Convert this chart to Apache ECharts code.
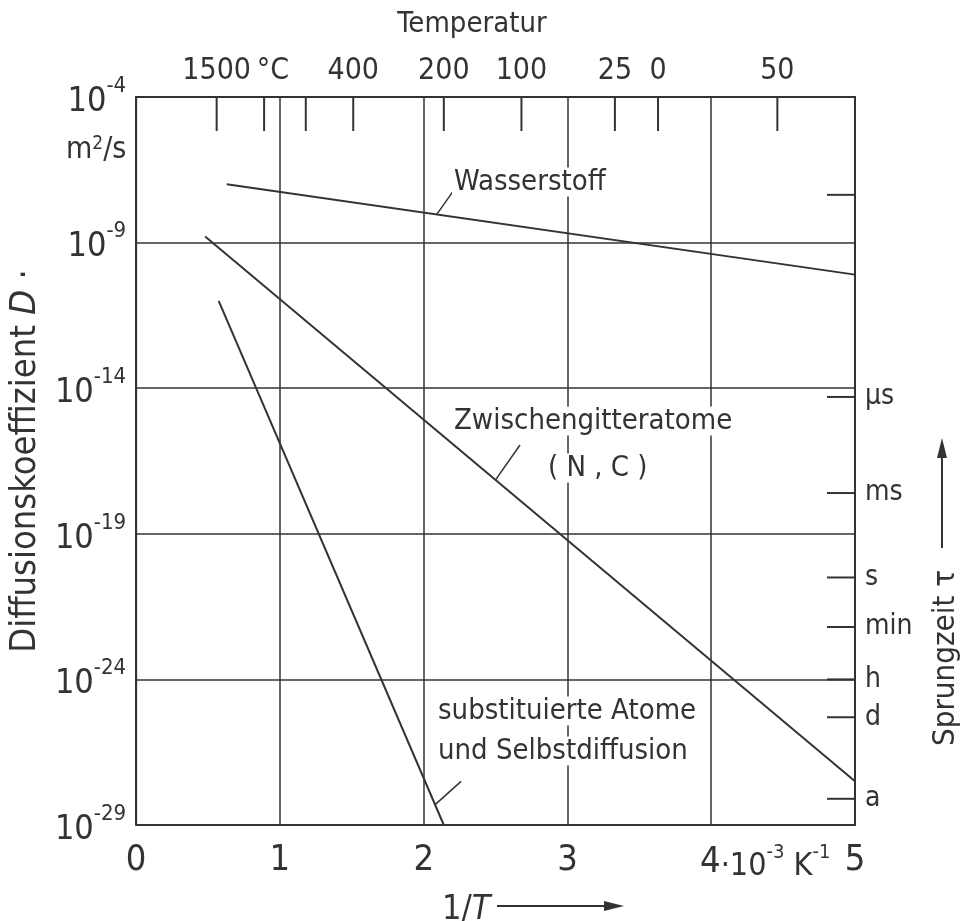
<!DOCTYPE html>
<html>
<head>
<meta charset="utf-8">
<title>Diffusionskoeffizient</title>
<script src="https://cdn.jsdelivr.net/npm/echarts@6/dist/echarts.min.js"></script>
<style>
  html, body { margin: 0; padding: 0; background: #fff; }
  #main { width: 974px; height: 921px; }
</style>
</head>
<body>
<div id="main"></div>
<script>
// x: 1/T in 10^-3 K^-1, y: Exponent von D in m^2/s (log10)
const wasserstoffX = [0.63, 5];
const wasserstoffLogD = [-7.0, -10.1];
const zwischenX = [0.48, 5];
const zwischenLogD = [-8.79, -27.5];
const substX = [0.574, 2.14];
const substLogD = [-11.0, -29];

// Temperaturskala oben
const tempTickX = [0.56, 0.89, 1.18, 1.51, 2.14, 2.68, 3.33, 3.63, 4.46];
const tempTickLabels = ['1500', '', '', '400', '200', '100', '25', '0', '50'];

// Sprungzeit rechts
const tauLogD = [-7.36, -14.3, -17.6, -20.5, -22.2, -24, -25.3, -28.1];
const tauLabels = ['', 'µs', 'ms', 's', 'min', 'h', 'd', 'a'];

// Hinweisstriche an den Kurven (x, log D)
const leaderWasserstoff = [[2.09, -8.04], [2.21, -7.2]];
const leaderZwischen = [[2.5, -17.15], [2.67, -15.95]];
const leaderSubst = [[2.08, -28.3], [2.26, -27.5]];

const INK = '#333';
const NUM = "'Liberation Sans Narrow', 'DejaVu Sans Condensed', sans-serif";
const TXT = "'DejaVu Sans Condensed', 'Liberation Sans Narrow', sans-serif";
const X_MAX = 5;
const LOG_MIN = -29;
const LOG_MAX = -4;

const zip = (xs, ys) => xs.map((x, i) => [x, ys[i]]);
const leader = pts => [[{ coord: pts[0] }, { coord: pts[1] }]];

function curve(name, xs, ls, lead) {
  return {
    name: name,
    type: 'line',
    data: zip(xs, ls),
    symbol: 'none',
    lineStyle: { color: INK, width: 2 },
    markLine: {
      silent: true,
      symbol: 'none',
      label: { show: false },
      lineStyle: { color: INK, width: 1.5, type: 'solid' },
      data: leader(lead)
    }
  };
}

function textEl(x, y, text, size, extra) {
  return {
    type: 'text', x: x, y: y, z: 100,
    style: Object.assign({
      text: text,
      fontSize: size,
      fontFamily: TXT,
      fill: INK,
      textAlign: 'left',
      textVerticalAlign: 'middle',
      backgroundColor: '#fff',
      padding: [0, 2]
    }, extra || {})
  };
}

let myChart = echarts.init(document.getElementById('main'));

let option = {
  animation: false,
  backgroundColor: '#fff',
  grid: {
    left: 135, right: 119, top: 97, bottom: 96,
    show: true, borderColor: INK, borderWidth: 2
  },
  xAxis: {
    type: 'value', min: 0, max: X_MAX, interval: 1,
    axisLine: { show: false },
    axisTick: { show: false },
    splitLine: { show: true, lineStyle: { color: INK, width: 1.5 } },
    axisLabel: {
      margin: 18,
      color: INK,
      fontFamily: NUM,
      fontSize: 36,
      formatter: function (v) {
        if (v === 4) return '{p|}4{n|·10}{s|-3}{n| K}{s|-1}';
        return String(v);
      },
      rich: {
        p: { width: 108 },
        n: { fontFamily: NUM, fontSize: 32, color: INK, verticalAlign: 'bottom', padding: [8, 0, 0, 0] },
        s: { fontFamily: NUM, fontSize: 20, color: INK, verticalAlign: 'top' }
      }
    }
  },
  yAxis: {
    type: 'value', min: LOG_MIN, max: LOG_MAX, interval: 5,
    axisLine: { show: false },
    axisTick: { show: false },
    splitLine: { show: true, lineStyle: { color: INK, width: 1.5 } },
    axisLabel: {
      margin: 10,
      formatter: function (v) {
        return '{b|10}{s|' + v + '}';
      },
      rich: {
        b: { fontFamily: NUM, fontSize: 34, color: INK, verticalAlign: 'bottom', padding: [10, 0, 0, 0] },
        s: { fontFamily: NUM, fontSize: 22, color: INK, verticalAlign: 'top' }
      }
    },
    name: 'Diffusionskoeffizient {i|D} ·',
    nameLocation: 'middle',
    nameRotate: 90,
    nameGap: 82,
    nameTextStyle: {
      fontFamily: TXT, fontSize: 36, color: INK,
      rich: { i: { fontFamily: TXT, fontSize: 36, fontStyle: 'italic', color: INK } }
    }
  },
  series: [
    curve('Wasserstoff', wasserstoffX, wasserstoffLogD, leaderWasserstoff),
    curve('Zwischengitteratome', zwischenX, zwischenLogD, leaderZwischen),
    curve('substituierte Atome', substX, substLogD, leaderSubst),
    {
      // Temperaturteilung am oberen Rand
      type: 'custom',
      clip: false,
      silent: true,
      data: tempTickX.map(x => [x, LOG_MAX]),
      renderItem: function (params, api) {
        let p = api.coord([api.value(0), api.value(1)]);
        let lab = tempTickLabels[params.dataIndex];
        let kids = [{
          type: 'line',
          shape: { x1: p[0], y1: p[1], x2: p[0], y2: p[1] + 34 },
          style: { stroke: INK, lineWidth: 2 }
        }];
        if (lab) {
          kids.push({
            type: 'text', x: p[0], y: p[1] - 11,
            style: { text: lab, fontFamily: NUM, fontSize: 30, fill: INK, textAlign: 'center', textVerticalAlign: 'bottom' }
          });
        }
        if (params.dataIndex === 0) {
          kids.push({
            type: 'text', x: p[0] + 40, y: p[1] - 11,
            style: { text: '°C', fontFamily: NUM, fontSize: 30, fill: INK, textAlign: 'left', textVerticalAlign: 'bottom' }
          });
        }
        return { type: 'group', children: kids };
      }
    },
    {
      // Sprungzeit-Teilung am rechten Rand
      type: 'custom',
      clip: false,
      silent: true,
      data: tauLogD.map(l => [X_MAX, l]),
      renderItem: function (params, api) {
        let p = api.coord([api.value(0), api.value(1)]);
        let lab = tauLabels[params.dataIndex];
        let kids = [{
          type: 'line',
          shape: { x1: p[0] - 28, y1: p[1], x2: p[0], y2: p[1] },
          style: { stroke: INK, lineWidth: 2 }
        }];
        if (lab) {
          kids.push({
            type: 'text', x: p[0] + 10, y: p[1],
            style: { text: lab, fontFamily: TXT, fontSize: 28, fill: INK, textAlign: 'left', textVerticalAlign: 'middle' }
          });
        }
        return { type: 'group', children: kids };
      }
    }
  ],
  graphic: [
    textEl(472, 24, 'Temperatur', 29, { textAlign: 'center', backgroundColor: null }),
    textEl(64, 150, 'm{s|2}/s', 30, {
      backgroundColor: null,
      rich: { s: { fontFamily: TXT, fontSize: 19, fill: INK, verticalAlign: 'top' } }
    }),
    textEl(452, 182, 'Wasserstoff', 29),
    textEl(452, 421, 'Zwischengitteratome', 29),
    textEl(546, 468, '( N , C )', 29),
    textEl(436, 711, 'substituierte Atome', 29),
    textEl(436, 751, 'und Selbstdiffusion', 29),
    textEl(440, 910, '1/{i|T}', 34, {
      backgroundColor: null,
      fontFamily: NUM,
      rich: { i: { fontFamily: NUM, fontSize: 34, fontStyle: 'italic', fill: INK } }
    }),
    { type: 'line', z: 100, shape: { x1: 497, y1: 906, x2: 606, y2: 906 }, style: { stroke: INK, lineWidth: 2 } },
    { type: 'polygon', z: 100, shape: { points: [[624, 906], [604, 901], [604, 911]] }, style: { fill: INK } },
    textEl(946, 658, 'Sprungzeit τ', 31, { textAlign: 'center', backgroundColor: null }),
    { type: 'line', z: 100, shape: { x1: 942, y1: 548, x2: 942, y2: 456 }, style: { stroke: INK, lineWidth: 2 } },
    { type: 'polygon', z: 100, shape: { points: [[942, 438], [937, 458], [947, 458]] }, style: { fill: INK } }
  ]
};

// der rotierte Titel rechts
option.graphic[10].rotation = Math.PI / 2;

myChart.setOption(option);
</script>
</body>
</html>
